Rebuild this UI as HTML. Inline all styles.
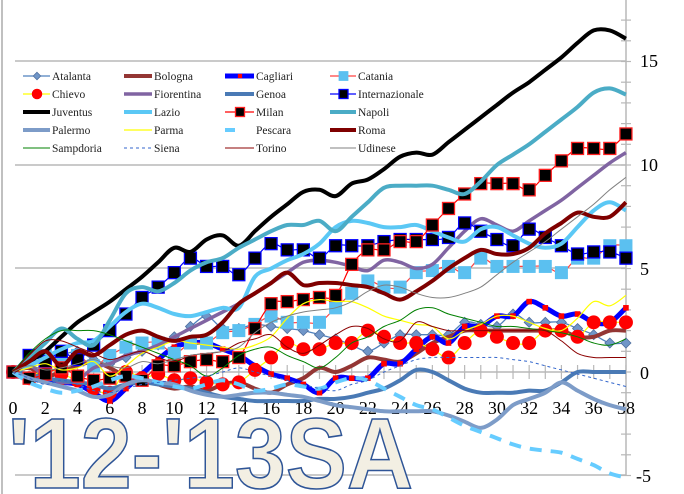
<!DOCTYPE html>
<html><head><meta charset="utf-8"><style>
html,body{margin:0;padding:0;background:#fff;}
svg{display:block;}
</style></head><body>
<svg id="c" width="684" height="494" viewBox="0 0 684 494" xmlns="http://www.w3.org/2000/svg" font-family="Liberation Serif, serif">
<rect width="684" height="494" fill="#fff"/>
<line x1="2" y1="0" x2="2" y2="494" stroke="#c0c0c0" stroke-width="2"/>
<g stroke="#b8b8b8" stroke-width="1.5">
<line x1="15" y1="61" x2="626" y2="61"/>
<line x1="15" y1="165" x2="626" y2="165"/>
<line x1="15" y1="268" x2="626" y2="268"/>
<line x1="15" y1="475" x2="626" y2="475"/>
<line x1="15" y1="372" x2="626" y2="372"/>
<line x1="626" y1="0" x2="626" y2="475"/>
</g>
<g id="ticks" stroke="#b8b8b8" stroke-width="1.2"></g>
<g font-size="18" fill="#000">
<text x="640" y="67">15</text>
<text x="640" y="171">10</text>
<text x="640" y="275">5</text>
<text x="640" y="379">0</text>
<text x="636" y="482">-5</text>
</g>
<g id="xl" font-size="18" fill="#000" text-anchor="middle"></g>
<g id="series"></g>
<rect x="16" y="66" width="370" height="96" fill="#fff"/>
<g id="legend" font-size="11.5" fill="#222"></g>
<text x="8" y="488" font-family="Liberation Sans, sans-serif" font-weight="bold" font-size="100" fill="#f3efe3" stroke="#2f5597" stroke-width="1.6" textLength="405" lengthAdjust="spacingAndGlyphs">'12-'13SA</text>
</svg>
<script>
(function(){
var NS="http://www.w3.org/2000/svg";
function X(i){return 13+i*16.13;}
function Y(v){return 372-v*20.7;}
function el(t,a,p){var e=document.createElementNS(NS,t);for(var k in a)e.setAttribute(k,a[k]);p.appendChild(e);return e;}
var tk=document.getElementById('ticks');
for(var i=0;i<=38;i++){el('line',{x1:X(i),y1:365,x2:X(i),y2:379},tk);}
for(var v=-5;v<=17;v++){el('line',{x1:621,y1:Y(v),x2:631,y2:Y(v)},tk);}
var xl=document.getElementById('xl');
for(var i=0;i<=38;i+=2){var t=el('text',{x:X(i),y:414},xl);t.textContent=i;}
var S=[
["Atalanta","#4f81bd",1.3,null,"dia",[0,0.4,0.6,0.8,1.0,0.6,0.4,0.7,1.0,1.3,1.7,2.2,2.7,2.1,2.1,2.3,2.2,2.1,2.0,1.8,1.6,1.3,1.0,1.4,1.8,1.8,1.8,1.8,2.4,2.3,2.2,2.8,2.4,2.4,2.4,2.1,1.8,1.4,1.4]],
["Bologna","#943634",4,null,null,[0,0.2,-0.2,0,0.3,0.5,0.2,-0.2,-0.3,-0.6,-0.8,-0.7,-0.9,-0.6,-0.5,-0.8,-1.0,-0.6,-0.3,0.2,0,0.3,0.7,0.6,0.5,0.9,1.4,1.7,2.0,2.0,2.0,2.0,2.0,2.0,2.0,1.7,1.7,2.0,2.0]],
["Cagliari","#0000ff",5,null,"rsq",[0,-0.2,-0.4,-0.5,-0.6,-1.0,-1.4,-0.8,-0.1,0.6,1.2,1.4,1.4,1.1,0.8,0.3,-0.1,-0.3,-0.6,-1.0,-0.3,-0.3,-0.3,0.4,0.4,1.1,1.7,1.4,2.2,2.2,2.7,2.7,3.4,3.1,2.7,2.8,2.4,2.4,3.1]],
["Catania","#ff4040",1.2,null,"lbsq",[0,0.6,0.8,0.6,0.8,0.3,0.8,1.2,1.4,1.4,0.9,1.4,1.4,1.9,2.0,2.3,2.7,2.4,2.4,2.4,3.1,3.8,4.4,4.1,4.1,4.8,4.9,5.1,4.8,5.5,5.1,5.1,5.1,5.1,4.8,5.5,5.5,6.1,6.1]],
["Chievo","#ffff00",1.2,null,"circ",[0,-0.3,0.2,-0.1,-0.4,-0.8,-1.0,0,-0.3,-0.1,-0.4,-0.3,-0.5,-0.6,-0.5,0.1,0.7,1.4,1.1,1.1,1.4,1.4,2.0,1.7,1.4,1.4,1.1,0.7,1.4,2.0,1.7,1.4,1.4,2.0,2.0,1.7,2.4,2.4,2.4]],
["Fiorentina","#8064a2",3.5,null,null,[0,0.3,-0.2,-0.5,-0.4,0.2,0.4,0.8,1.0,1.3,1.7,2.1,2.5,2.9,3.3,3.8,4.3,4.8,5.3,5.4,5.3,5.1,4.9,5.4,5.3,5.0,5.2,6.0,6.8,7.4,7.1,6.8,7.3,7.8,8.3,8.9,9.5,10.1,10.6]],
["Genoa","#4a7ab5",4,null,null,[0,-0.1,-0.3,-0.4,-0.5,-0.6,-0.8,-0.6,-0.5,-0.6,-0.7,-0.8,-1.0,-1.2,-1.3,-1.4,-1.4,-1.4,-1.4,-1.3,-1.3,-1.2,-1.0,-0.8,-0.4,0.1,0,-0.4,-0.8,-1.0,-1.0,-1.0,-0.9,-0.9,-0.5,0,0,0,0]],
["Internazionale","#0000ff",1.2,null,"bsq",[0,0.8,0.5,1.0,0.6,1.3,2.0,2.8,3.6,4.1,4.8,5.5,5.1,5.1,4.7,5.5,6.2,5.9,5.9,5.5,6.1,6.1,6.1,6.3,6.4,6.4,6.4,6.5,7.2,6.8,6.4,6.1,6.9,6.5,6.1,5.7,5.8,5.8,5.5]],
["Juventus","#000000",4,null,null,[0,0.5,1.0,1.7,2.4,2.9,3.4,4.0,4.6,5.3,6.0,5.8,6.4,6.6,6.1,6.8,7.5,8.1,8.7,8.8,8.5,9.1,9.3,9.8,10.4,10.6,10.5,11.1,11.7,12.3,12.9,13.5,14.0,14.6,15.2,15.9,16.5,16.5,16.1]],
["Lazio","#5bc8f5",4,null,null,[0,0.3,0.7,1.1,1.4,1.5,2.2,2.9,3.3,3.1,2.8,2.7,2.9,3.1,3.1,4.6,5.0,5.4,5.7,6.2,7.0,7.3,7.2,7.0,7.0,7.1,6.8,6.5,6.3,6.9,7.0,6.6,6.2,6.0,6.2,7.0,7.8,8.2,7.8]],
["Milan","#ff0000",1.2,null,"msq",[0,-0.3,-0.1,0.2,-0.2,-0.4,-0.3,-0.2,-0.4,0.3,0.3,0.5,0.6,0.5,0.7,2.1,3.3,3.4,3.5,3.6,3.7,5.2,5.9,5.9,6.3,6.3,7.1,7.9,8.6,9.1,9.1,9.1,8.8,9.5,10.2,10.8,10.8,10.8,11.5]],
["Napoli","#4bacc6",4,null,null,[0,0.7,1.4,2.1,1.6,1.3,2.5,3.8,4.1,3.9,4.3,4.9,5.3,5.5,6.0,6.4,6.8,7.1,7.1,7.3,6.8,7.5,8.2,8.9,9.0,9.0,9.0,8.8,8.6,9.2,10.0,10.5,11.0,11.6,12.2,12.8,13.5,13.7,13.4]],
["Palermo","#7d9cc8",4,null,null,[0,-0.3,-0.5,-0.7,-0.9,-1.2,-1.1,-0.6,-0.4,-0.5,-0.6,-0.9,-1.1,-1.2,-1.1,-1.0,-1.0,-1.1,-1.2,-1.4,-1.6,-1.7,-1.8,-1.9,-1.9,-1.9,-1.9,-2.1,-2.4,-2.7,-2.3,-1.6,-1.3,-1.0,-0.5,-0.9,-1.3,-1.6,-1.8]],
["Parma","#ffff00",1.2,null,null,[0,0.2,0.4,0.1,0.2,0.5,-0.2,0.3,0.9,1.2,1.5,1.4,1.3,1.2,1.1,1.3,1.7,2.6,3.3,3.5,3.4,3.4,3.1,2.7,2.5,2.3,2.2,1.6,2.0,2.3,2.7,2.7,2.4,2.1,2.0,2.6,3.4,3.2,3.7]],
["Pescara","#66ccff",4,"12 9",null,[0,-0.5,-0.8,-1.0,-0.9,-0.7,-0.4,-0.2,-0.3,-0.5,-0.7,-0.8,-0.6,-0.4,-0.6,-0.9,-0.8,-0.6,-0.7,-0.8,-0.5,-0.3,-0.4,-0.8,-1.2,-1.6,-1.8,-2.2,-2.6,-2.9,-3.2,-3.5,-3.7,-3.8,-3.9,-4.2,-4.5,-4.9,-5.1]],
["Roma","#7f0000",4,null,null,[0,0.5,1.0,0.3,1.0,0.8,1.3,1.8,2.0,1.7,1.5,1.7,1.8,2.4,3.3,3.8,4.3,4.8,4.2,4.3,4.3,4.2,4.1,3.8,3.5,3.9,4.4,5.0,5.5,5.9,5.7,5.7,6.0,6.7,7.2,7.7,7.5,7.5,8.2]],
["Sampdoria","#008000",1,null,null,[0,0.9,1.6,2.0,2.0,2.0,1.8,1.5,1.2,0.9,0.6,0.3,-0.2,0.2,0.8,1.1,1.2,0.8,0.5,0.2,0.7,1.4,1.7,2.2,2.5,3.0,3.1,2.8,2.6,2.4,2.2,2.2,2.1,2.0,1.9,1.7,1.4,1.3,1.6]],
["Siena","#3366cc",1,"3 3",null,[0,-0.3,-0.6,-0.4,-0.6,-0.9,-1.0,-0.8,-0.6,-0.5,-0.4,-0.3,-0.2,0,0.2,0,-0.2,-0.4,-0.6,-0.8,-0.9,-0.6,-0.4,0,0.3,0.6,0.7,0.7,0.7,0.7,0.7,0.6,0.5,0.3,0.1,-0.1,-0.3,-0.5,-0.7]],
["Torino","#8b0000",1,null,null,[0,0.8,1.5,1.5,1.2,0.9,0.6,0.8,1.0,0.7,0.5,0.8,0.9,1.0,1.4,1.6,1.8,1.2,0.9,1.3,1.8,2.2,2.1,1.6,1.5,2.4,2.2,2.0,2.0,2.0,2.0,2.0,2.0,2.0,1.5,0.9,0.7,0.7,0.7]],
["Udinese","#808080",1,null,null,[0,0.3,0.1,0.2,0.4,0.6,0.3,0.2,0.5,0.4,0.6,0.8,0.9,1.0,1.2,1.9,2.4,2.7,2.9,3.0,3.1,3.4,3.9,4.2,4.1,3.8,3.6,3.6,3.8,4.1,4.7,5.3,5.8,6.3,6.9,7.5,8.1,8.8,9.4]]
];
function path(d){
 var p=d.map(function(v,i){return [X(i),Y(v)];});
 var s="M"+p[0][0]+","+p[0][1];
 for(var i=0;i<p.length-1;i++){
  var p0=p[i-1]||p[i],p1=p[i],p2=p[i+1],p3=p[i+2]||p2;
  var c1x=p1[0]+(p2[0]-p0[0])/6,c1y=p1[1]+(p2[1]-p0[1])/6;
  var c2x=p2[0]-(p3[0]-p1[0])/6,c2y=p2[1]-(p3[1]-p1[1])/6;
  s+="C"+c1x.toFixed(1)+","+c1y.toFixed(1)+" "+c2x.toFixed(1)+","+c2y.toFixed(1)+" "+p2[0].toFixed(1)+","+p2[1].toFixed(1);
 }
 return s;
}
function marker(type,x,y,g,sc){
 sc=sc||1;
 if(type=="dia"){var r=5*sc;el('polygon',{points:(x)+","+(y-r)+" "+(x+r)+","+y+" "+x+","+(y+r)+" "+(x-r)+","+y,fill:"#7096c8",stroke:"#4f6f9f","stroke-width":0.8},g);}
 else if(type=="rsq"){var r=2.8*sc;el('rect',{x:x-r,y:y-r,width:2*r,height:2*r,fill:"#ff0000"},g);}
 else if(type=="lbsq"){var r=6.5*sc;el('rect',{x:x-r,y:y-r,width:2*r,height:2*r,fill:"#5bc0f0"},g);}
 else if(type=="circ"){el('circle',{cx:x,cy:y,r:7*sc,fill:"#ff0000"},g);}
 else if(type=="bsq"){var r=6*sc;el('rect',{x:x-r,y:y-r,width:2*r,height:2*r,fill:"#000",stroke:"#0000ff","stroke-width":1.3},g);}
 else if(type=="msq"){var r=6*sc;el('rect',{x:x-r,y:y-r,width:2*r,height:2*r,fill:"#000",stroke:"#ff2020","stroke-width":1.3},g);}
}
var sg=document.getElementById('series');
S.forEach(function(s){
 var g=el('g',{},sg);
 var a={d:path(s[5]),fill:"none",stroke:s[1],"stroke-width":s[2],"stroke-linejoin":"round","stroke-linecap":"butt"};
 if(s[3])a["stroke-dasharray"]=s[3];
 el('path',a,g);
 if(s[4]){s[5].forEach(function(v,i){marker(s[4],X(i),Y(v),g);});}
});
var lg=document.getElementById('legend');
var cols=[[23,51],[124,153],[225,255],[330,357]], rows=[76,94,112,130,148];
S.forEach(function(s,k){
 var c=cols[k%4], r=rows[Math.floor(k/4)];
 var a={x1:c[0],y1:r,x2:c[1]-1,y2:r,stroke:s[1],"stroke-width":s[2]};
 if(s[3])a["stroke-dasharray"]=s[3]=="12 9"?"10 30":s[3];
 el('line',a,lg);
 if(s[4])marker(s[4],(c[0]+c[1])/2,r,lg,0.75);
 var t=el('text',{x:c[1]+1,y:r+4},lg);t.textContent=s[0];
});
})();
</script>
</body></html>
